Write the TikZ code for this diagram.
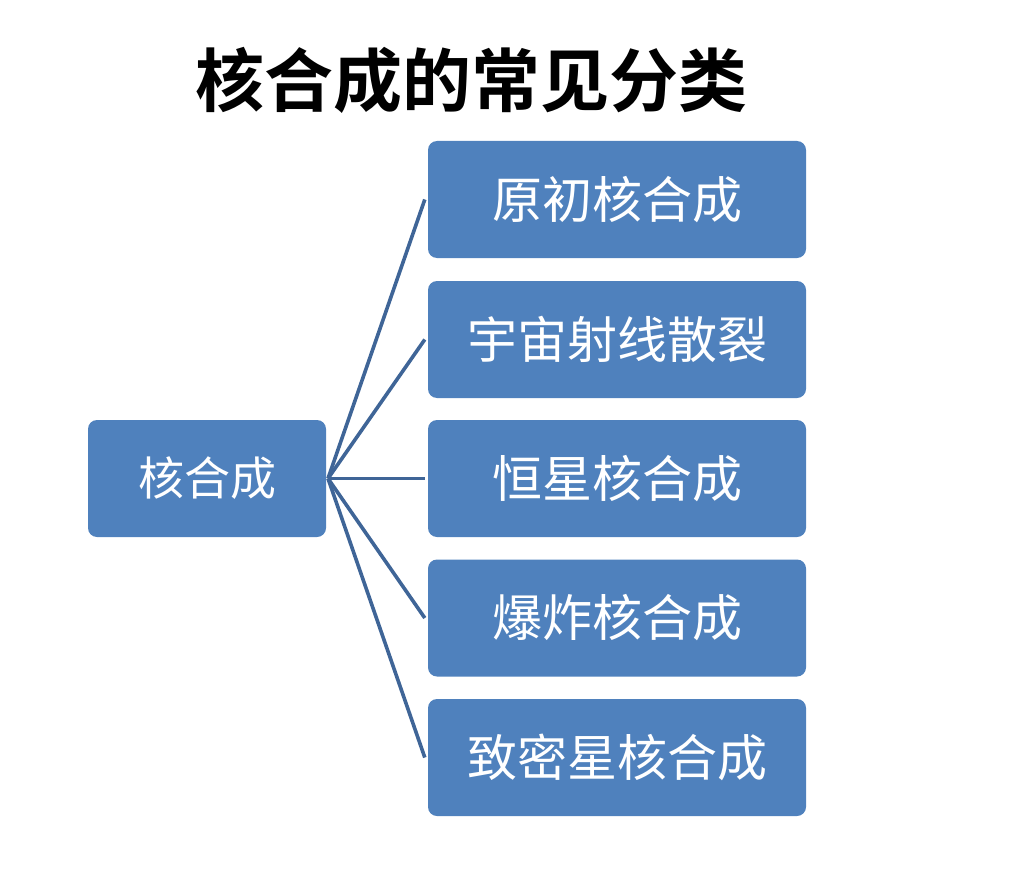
\documentclass[tikz,border=0pt]{standalone}
\usepackage{fontspec}
\newfontfamily\cjk{Noto Sans CJK SC}[BoldFont={* Bold}]
\definecolor{boxblue}{HTML}{4F81BD}
\definecolor{linkblue}{HTML}{3F6597}
\begin{document}
\begin{tikzpicture}[x=1pt,y=-1pt,
  box/.style={fill=boxblue,rounded corners=9pt,text=white,inner sep=0pt,anchor=center},
  leaf/.style={box,font=\cjk\fontsize{50}{54}\selectfont,minimum width=378pt,minimum height=117pt},
  rootbox/.style={box,font=\cjk\fontsize{46}{50}\selectfont,minimum width=238pt,minimum height=117pt},
  link/.style={draw=linkblue,line width=3.6pt}]
\useasboundingbox (0,0) rectangle (1012,872);
\node[font=\cjk\bfseries\fontsize{69}{74}\selectfont] (title) at (471,80) {核合成的常见分类};
\node[rootbox] (root) at (207,478.5) {核合成};
\node[leaf] (a) at (617,199.5) {原初核合成};
\node[leaf] (b) at (617,339.5) {宇宙射线散裂};
\node[leaf] (c) at (617,478.5) {恒星核合成};
\node[leaf] (d) at (617,618) {爆炸核合成};
\node[leaf] (e) at (617,757.5) {致密星核合成};
\coordinate (o) at (328,478.5);
\foreach \t in {a,b,c,d,e}{
  \draw[link] (o) -- ([xshift=-3pt]\t.west);
}
\end{tikzpicture}
\end{document}
